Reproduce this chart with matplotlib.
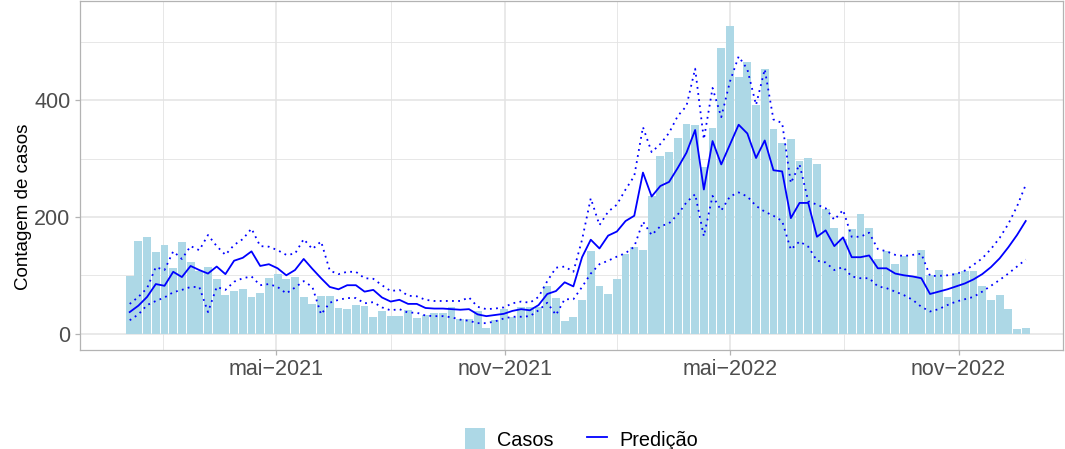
import pandas as pd
import matplotlib.pyplot as plt
from matplotlib.patches import Patch
from matplotlib.lines import Line2D

# semanas epidemiologicas (domingo)
semanas = pd.date_range("2021-01-03", periods=104, freq="7D")

casos = [99, 158, 166, 140, 152, 113, 157, 123, 108, 114,
         94, 66, 73, 76, 63, 70, 95, 102, 94, 97,
         63, 51, 64, 64, 44, 42, 49, 47, 28, 39,
         30, 30, 40, 27, 32, 35, 35, 46, 25, 25,
         39, 9.5, 23, 42, 28, 46, 46, 46, 82, 61,
         21, 28, 57, 142, 82, 68, 94, 137, 149, 144,
         236, 305, 312, 336, 360, 358, 286, 353, 489, 527,
         439, 465, 391, 453, 350, 327, 334, 296, 301, 291,
         214, 181, 162, 179, 205, 181, 128, 142, 119, 133,
         99, 143, 100, 109, 63, 104, 107, 107, 82, 57,
         66, 42, 8, 9.5]

predicao = [37, 48, 63, 85, 82, 106, 97, 116, 109, 103,
            115, 102, 125, 130, 141, 116, 119, 112, 100, 109,
            128, 111, 95, 80, 76, 83, 83, 72, 75, 62,
            55, 58, 51, 51, 44, 43, 43, 42, 41, 42,
            33, 30, 32, 34, 39, 42, 40, 49, 68, 73,
            88, 81, 131, 161, 146, 168, 175, 193, 202, 276,
            235, 253, 260, 284, 310, 349, 247, 330, 290, 324,
            358, 343, 301, 331, 280, 278, 198, 224, 224, 166,
            177, 150, 165, 131, 131, 134, 112, 112, 103, 100,
            98, 95, 68, 72, 76, 81, 86, 93, 102, 114,
            129, 148, 169, 193]

limite_sup = [51, 63, 78, 114, 109, 141, 128, 150, 143, 169,
              150, 135, 152, 162, 180, 150, 149, 143, 135, 137,
              162, 145, 158, 108, 102, 106, 106, 95, 94, 83,
              73, 75, 65, 64, 58, 56, 56, 56, 56, 62,
              46, 42, 43, 45, 52, 55, 53, 63, 90, 113,
              115, 106, 161, 232, 186, 209, 221, 247, 270, 354,
              311, 325, 344, 373, 390, 454, 333, 421, 371, 432,
              475, 453, 392, 453, 367, 361, 258, 290, 227, 221,
              215, 195, 212, 166, 166, 173, 145, 141, 135, 133,
              135, 137, 99, 99, 100, 102, 108, 118, 129, 145,
              164, 188, 218, 255]

limite_inf = [23, 33, 49, 56, 62, 71, 75, 80, 80, 37,
              80, 75, 89, 95, 98, 83, 85, 80, 69, 79,
              90, 80, 33, 53, 58, 61, 61, 52, 54, 45,
              40, 42, 36, 36, 31, 30, 30, 28, 24, 22,
              18, 18, 21, 26, 29, 29, 30, 40, 53, 32,
              59, 59, 80, 103, 119, 125, 132, 138, 149, 192,
              169, 184, 189, 204, 225, 239, 167, 236, 211, 235,
              242, 235, 219, 209, 202, 193, 144, 158, 149, 125,
              122, 109, 114, 98, 95, 95, 81, 78, 72, 66,
              58, 46, 38, 42, 49, 55, 59, 63, 72, 82,
              92, 103, 115, 127]

rotulos_x = ["mai\u22122021", "nov\u22122021", "mai\u22122022", "nov\u22122022"]
datas_x = pd.to_datetime(["2021-05-01", "2021-11-01", "2022-05-01", "2022-11-01"])
datas_minor = pd.to_datetime(["2021-01-30", "2021-08-01", "2022-01-30", "2022-08-01"])

plt.rcParams["font.family"] = ["Liberation Sans", "DejaVu Sans"]

fig = plt.figure(figsize=(10.65, 4.49), dpi=100)
ax = fig.add_axes([80 / 1065, 1 - 350 / 449, 983 / 1065, 349 / 449])

azul_claro = "#ADD8E6"
cinza_grade = "#E3E3E3"

ax.bar(semanas, casos, width=6.3, color=azul_claro, zorder=2)
ax.plot(semanas, predicao, color="blue", lw=1.3, zorder=3)
ax.plot(semanas, limite_sup, color="blue", lw=1.3, ls=(0, (1, 2.4)), zorder=3)
ax.plot(semanas, limite_inf, color="blue", lw=1.3, ls=(0, (1, 2.4)), zorder=3)

ax.set_xlim(pd.Timestamp("2020-11-24"), pd.Timestamp("2023-01-24"))
ax.set_ylim(-28, 570)

ax.set_xticks(datas_x)
ax.set_xticklabels(rotulos_x)
ax.set_xticks(datas_minor, minor=True)
ax.set_yticks([0, 200, 400])
ax.set_yticks([100, 300, 500], minor=True)

ax.grid(True, which="major", color=cinza_grade, lw=1.1, zorder=0)
ax.grid(True, which="minor", color=cinza_grade, lw=0.6, zorder=0)
ax.set_axisbelow(True)

for lado in ax.spines.values():
    lado.set_color("#B3B3B3")
    lado.set_linewidth(0.9)

ax.tick_params(axis="both", which="major", colors="#B3B3B3", length=3.5, width=0.9,
               labelcolor="#4D4D4D", labelsize=15.5)
ax.tick_params(axis="both", which="minor", length=0)
ax.tick_params(axis="x", pad=3)

ax.set_ylabel("Contagem de casos", fontsize=13.5, color="black")
ax.yaxis.set_label_coords(-0.049, 0.41)

itens = [Patch(facecolor=azul_claro, edgecolor="none", label="Casos"),
         Line2D([0], [0], color="blue", lw=1.3, label="Predi\u00e7\u00e3o")]
fig.legend(handles=itens, loc="lower center", bbox_to_anchor=(0.546, -0.044), ncol=2,
           frameon=False, fontsize=14.3, handlelength=1.0, handleheight=1.4,
           columnspacing=1.7, handletextpad=0.6)

fig.savefig("out.png", dpi=100)
